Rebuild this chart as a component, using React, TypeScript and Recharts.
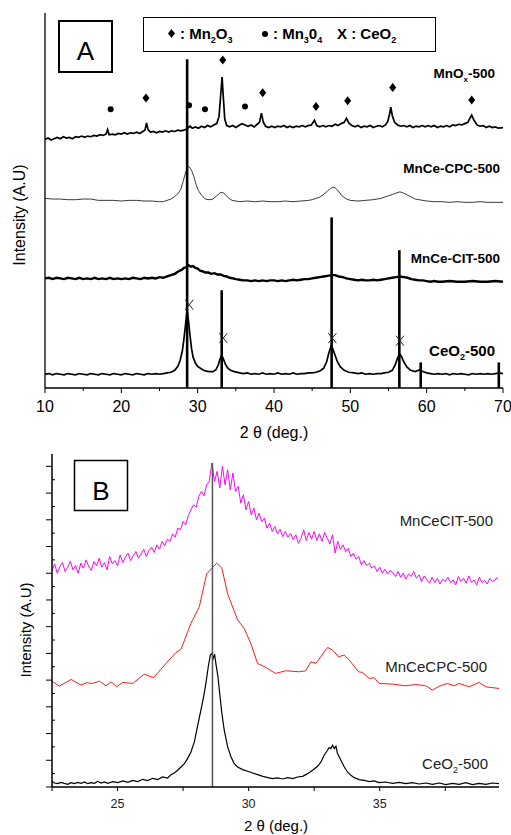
import { ComposedChart, Line, Scatter, XAxis, YAxis, ReferenceLine } from "recharts";

const FONT = '"Liberation Sans", Arial, sans-serif';

// ---- panel A (2θ 10–70, stacked patterns, arbitrary units) ----
const mnoxA = [
  [10, 3.79], [10.4, 3.81], [10.8, 3.78], [11.2, 3.8], [11.6, 3.82], [12, 3.8], [12.4, 3.83], [12.8, 3.81], [13.2, 3.82], [13.6, 3.8],
  [14, 3.83], [14.4, 3.82], [14.8, 3.84], [15.2, 3.82], [15.6, 3.84], [16, 3.83], [16.4, 3.85], [16.8, 3.84], [17.2, 3.86], [17.6, 3.85],
  [18, 3.87], [18.2, 3.94], [18.4, 3.86], [18.8, 3.87], [19.2, 3.86], [19.6, 3.88], [20, 3.87], [20.4, 3.89], [20.8, 3.87], [21.2, 3.89],
  [21.6, 3.88], [22, 3.9], [22.4, 3.88], [22.8, 3.91], [23.1, 3.93], [23.3, 4.04], [23.5, 3.94], [23.8, 3.9], [24.2, 3.91], [24.6, 3.89],
  [25, 3.91], [25.4, 3.9], [25.8, 3.92], [26.2, 3.9], [26.6, 3.92], [27, 3.91], [27.4, 3.93], [27.8, 3.92], [28.2, 3.93], [28.6, 3.95],
  [29, 3.99], [29.3, 3.96], [29.7, 3.98], [30.1, 3.96], [30.5, 3.99], [30.9, 3.97], [31.3, 4.0], [31.7, 3.98], [32.1, 4.01], [32.5, 4.03],
  [32.8, 4.14], [33.0, 4.44], [33.2, 4.74], [33.35, 4.45], [33.55, 4.1], [33.8, 4.0], [34.2, 3.98], [34.6, 4.0], [35, 3.97], [35.4, 4.0],
  [35.8, 4.03], [36.2, 4.01], [36.6, 3.99], [37, 4.01], [37.4, 3.98], [37.8, 4.02], [38.1, 4.05], [38.35, 4.19], [38.6, 4.05], [38.9, 3.99],
  [39.3, 3.97], [39.7, 3.99], [40.1, 3.97], [40.5, 3.99], [40.9, 3.98], [41.3, 4.0], [41.7, 3.97], [42.1, 3.99], [42.5, 3.97], [42.9, 3.99],
  [43.3, 3.98], [43.7, 4.0], [44.1, 3.98], [44.5, 4.0], [44.9, 4.01], [45.3, 4.08], [45.6, 4.0], [46, 3.98], [46.4, 4.0], [46.8, 3.98],
  [47.2, 4.0], [47.6, 3.99], [48, 4.02], [48.4, 4.0], [48.8, 4.03], [49.2, 4.05], [49.5, 4.11], [49.8, 4.04], [50.2, 4.0], [50.6, 3.98],
  [51, 4.0], [51.4, 3.97], [51.8, 3.99], [52.2, 3.98], [52.6, 4.0], [53, 3.97], [53.4, 3.99], [53.8, 4.0], [54.2, 3.98], [54.6, 4.01],
  [54.9, 4.06], [55.15, 4.18], [55.3, 4.28], [55.5, 4.15], [55.8, 4.05], [56.2, 4.01], [56.6, 3.99], [57, 4.0], [57.4, 3.98], [57.8, 4.0],
  [58.2, 3.97], [58.6, 3.99], [59, 3.98], [59.4, 4.0], [59.8, 3.98], [60.2, 4.0], [60.6, 3.98], [61, 4.0], [61.4, 3.97], [61.8, 3.99],
  [62.2, 3.98], [62.6, 4.0], [63, 3.98], [63.4, 4.01], [63.8, 4.0], [64.2, 4.02], [64.6, 4.01], [65, 4.03], [65.4, 4.05], [65.7, 4.12],
  [65.9, 4.16], [66.2, 4.08], [66.6, 4.01], [67, 3.99], [67.4, 4.0], [67.8, 3.97], [68.2, 3.99], [68.6, 3.97], [69, 3.98], [69.4, 3.96], [70, 3.97],
];

const cpcA = [
  [10, 2.89], [11, 2.88], [12, 2.88], [13, 2.87], [14, 2.87], [15, 2.88], [16, 2.88], [17, 2.86], [18, 2.86], [19, 2.86],
  [20, 2.85], [21, 2.86], [22, 2.86], [23, 2.85], [24, 2.85], [25, 2.84], [25.5, 2.84], [26, 2.86], [26.5, 2.88], [27, 2.92],
  [27.4, 2.96], [27.8, 3.03], [28.1, 3.15], [28.4, 3.28], [28.7, 3.38], [28.9, 3.37], [29.2, 3.32], [29.5, 3.22], [29.8, 3.1], [30.1, 3.01],
  [30.5, 2.94], [31, 2.88], [31.5, 2.87], [32, 2.88], [32.5, 2.93], [33, 2.98], [33.3, 2.98], [33.6, 2.95], [34, 2.9], [34.5, 2.86],
  [35.5, 2.84], [36.5, 2.85], [37.5, 2.84], [38.5, 2.85], [39.5, 2.84], [40.5, 2.84], [41.5, 2.85], [42.5, 2.84], [43.5, 2.85], [44.5, 2.86],
  [45, 2.87], [45.5, 2.89], [46, 2.91], [46.5, 2.95], [47, 3.0], [47.4, 3.04], [47.7, 3.06], [48, 3.05], [48.3, 3.02], [48.7, 2.96],
  [49, 2.92], [49.5, 2.88], [50, 2.86], [51, 2.85], [52, 2.86], [53, 2.87], [54, 2.89], [54.5, 2.91], [55, 2.93], [55.5, 2.95],
  [56, 2.97], [56.5, 2.99], [57, 2.97], [57.5, 2.94], [58, 2.91], [58.5, 2.88], [59, 2.87], [60, 2.85], [61, 2.84], [62, 2.84],
  [63, 2.83], [64, 2.84], [65, 2.83], [66, 2.83], [67, 2.84], [68, 2.83], [69, 2.83], [70, 2.83],
];

const citA = [
  [10, 1.67], [10.5, 1.68], [11, 1.66], [11.5, 1.68], [12, 1.67], [12.5, 1.66], [13, 1.68], [13.5, 1.67], [14, 1.66], [14.5, 1.68],
  [15, 1.66], [15.5, 1.67], [16, 1.66], [16.5, 1.68], [17, 1.66], [17.5, 1.67], [18, 1.66], [18.5, 1.68], [19, 1.66], [19.5, 1.67],
  [20, 1.66], [20.5, 1.67], [21, 1.66], [21.5, 1.68], [22, 1.67], [22.5, 1.66], [23, 1.68], [23.5, 1.67], [24, 1.68], [24.5, 1.67],
  [25, 1.69], [25.5, 1.68], [26, 1.7], [26.5, 1.72], [27, 1.74], [27.5, 1.78], [27.9, 1.8], [28.2, 1.83], [28.5, 1.84], [28.8, 1.87],
  [29.1, 1.85], [29.4, 1.86], [29.7, 1.83], [30, 1.82], [30.3, 1.79], [30.6, 1.78], [31, 1.76], [31.4, 1.76], [31.8, 1.74], [32.2, 1.75],
  [32.6, 1.73], [33, 1.73], [33.4, 1.71], [33.8, 1.7], [34.2, 1.68], [34.6, 1.67], [35, 1.66], [35.5, 1.65], [36, 1.64], [36.5, 1.64],
  [37, 1.63], [37.5, 1.64], [38, 1.63], [38.5, 1.64], [39, 1.63], [39.5, 1.64], [40, 1.64], [40.5, 1.63], [41, 1.64], [41.5, 1.63],
  [42, 1.64], [42.5, 1.65], [43, 1.64], [43.5, 1.65], [44, 1.66], [44.5, 1.66], [45, 1.67], [45.5, 1.68], [46, 1.69], [46.5, 1.7],
  [47, 1.71], [47.5, 1.72], [48, 1.72], [48.5, 1.7], [49, 1.69], [49.5, 1.67], [50, 1.66], [50.5, 1.65], [51, 1.64], [51.5, 1.65],
  [52, 1.64], [52.5, 1.64], [53, 1.65], [53.5, 1.64], [54, 1.65], [54.5, 1.66], [55, 1.67], [55.5, 1.68], [56, 1.69], [56.5, 1.7],
  [57, 1.69], [57.5, 1.68], [58, 1.66], [58.5, 1.65], [59, 1.64], [59.5, 1.64], [60, 1.63], [60.5, 1.62], [61, 1.63], [61.5, 1.62],
  [62, 1.62], [63, 1.63], [64, 1.62], [65, 1.62], [66, 1.63], [67, 1.62], [68, 1.62], [69, 1.63], [70, 1.62],
];

const ceo2A = [
  [10, 0.21], [10.5, 0.22], [11, 0.2], [11.5, 0.22], [12, 0.21], [12.5, 0.2], [13, 0.22], [13.5, 0.21], [14, 0.2], [14.5, 0.22],
  [15, 0.21], [15.5, 0.2], [16, 0.22], [16.5, 0.21], [17, 0.2], [17.5, 0.22], [18, 0.21], [18.5, 0.2], [19, 0.22], [19.5, 0.21],
  [20, 0.2], [20.5, 0.22], [21, 0.21], [21.5, 0.2], [22, 0.22], [22.5, 0.21], [23, 0.2], [23.5, 0.22], [24, 0.21], [24.5, 0.22],
  [25, 0.21], [25.5, 0.22], [26, 0.23], [26.5, 0.24], [27, 0.27], [27.4, 0.33], [27.7, 0.42], [28, 0.57], [28.2, 0.75], [28.4, 0.95],
  [28.55, 1.12], [28.65, 1.16], [28.8, 1.02], [29, 0.8], [29.2, 0.6], [29.4, 0.47], [29.7, 0.38], [30, 0.33], [30.5, 0.29], [31, 0.26],
  [31.5, 0.25], [32, 0.25], [32.4, 0.28], [32.7, 0.35], [32.95, 0.45], [33.15, 0.5], [33.35, 0.45], [33.6, 0.37], [33.9, 0.31], [34.3, 0.27],
  [34.8, 0.25], [35.5, 0.23], [36, 0.22], [36.5, 0.23], [37, 0.21], [37.5, 0.22], [38, 0.21], [38.5, 0.23], [39, 0.21], [39.5, 0.22],
  [40, 0.21], [40.5, 0.23], [41, 0.21], [41.5, 0.22], [42, 0.21], [42.5, 0.23], [43, 0.21], [43.5, 0.22], [44, 0.22], [44.5, 0.23],
  [45, 0.23], [45.5, 0.24], [46, 0.26], [46.5, 0.3], [46.9, 0.4], [47.2, 0.54], [47.45, 0.63], [47.7, 0.6], [48, 0.5], [48.3, 0.4],
  [48.7, 0.32], [49.2, 0.27], [49.8, 0.24], [50.5, 0.23], [51, 0.22], [51.5, 0.23], [52, 0.21], [52.5, 0.22], [53, 0.21], [53.5, 0.22],
  [54, 0.22], [54.5, 0.23], [55, 0.24], [55.5, 0.27], [55.9, 0.36], [56.2, 0.46], [56.45, 0.52], [56.7, 0.48], [57, 0.4], [57.4, 0.32],
  [57.9, 0.27], [58.5, 0.25], [59.1, 0.28], [59.5, 0.25], [60, 0.23], [60.5, 0.22], [61, 0.21], [61.5, 0.22], [62, 0.21], [62.5, 0.22],
  [63, 0.2], [63.5, 0.22], [64, 0.21], [64.5, 0.22], [65, 0.21], [65.5, 0.2], [66, 0.22], [66.5, 0.21], [67, 0.22], [67.5, 0.21],
  [68, 0.22], [68.5, 0.21], [69, 0.22], [69.5, 0.23], [70, 0.22],
];

// reference pattern sticks (position, height)
const sticksA = [[28.62, 5.01], [33.15, 1.49], [47.55, 2.6], [56.42, 2.1], [59.22, 0.39], [69.45, 0.39]];
// phase markers
const mn2o3Marks = [[23.23, 4.42], [33.28, 5.0], [38.52, 4.5], [45.5, 4.29], [49.65, 4.38], [55.55, 4.58], [65.9, 4.39]];
const mn3o4Marks = [[18.6, 4.25], [28.87, 4.31], [30.96, 4.25], [36.2, 4.29]];
const ceo2Marks = [[28.9, 1.27], [33.36, 0.76], [47.64, 0.76], [56.5, 0.72]];

const ticksA_x = [10, 15, 20, 25, 30, 35, 40, 45, 50, 55, 60, 65, 70];
const ticksA_top = [15, 20, 25, 30, 35, 40, 45, 50, 55, 60, 65];
const ticksA_y = [0, 1, 2, 3, 4, 5];
const ticksA_right = [0, 0.5, 1, 1.5, 2, 2.5, 3, 3.5, 4, 4.5, 5, 5.5];

// ---- panel B (2θ 22.5–39.5, counts) ----
const citB_start = 22.5;
const citB_step = 0.1;
const citB = [
  648, 668, 640, 660, 672, 645, 658, 676, 650, 663, 640, 670, 655, 680, 660, 648, 675, 662, 685, 658, 672, 650, 690, 668, 678, 662,
  695, 672, 688, 700, 678, 692, 705, 685, 698, 712, 690, 708, 718, 702, 725, 712, 735, 722, 742, 735,
  758, 748, 775, 770, 795, 785, 812, 830, 845, 838, 870, 885, 872, 905, 915,
  970, 915, 945, 895, 960, 905, 950, 890, 940, 885,
  900, 850, 875, 830, 855, 815, 835, 800, 820, 795,
  805, 775, 790, 765, 780, 758, 772, 750, 765, 748,
  760, 740, 755, 730, 745, 770, 738, 762, 742, 765,
  738, 758, 735, 762, 745, 728, 755, 700, 735, 712,
  725, 705, 715, 690, 700, 682, 690, 665, 678, 662,
  670, 655, 662, 645, 658, 640, 652, 638, 648, 642,
  630, 645, 628, 640, 622, 638, 630, 645, 625, 635,
  615, 632, 620, 610, 628, 612, 625, 608, 622, 615,
  628, 612, 620, 605, 630, 615, 625, 610, 632, 612,
  620, 605, 628, 612, 618, 608, 625, 615, 620, 628,
];

const cpcB = [
  [22.49, 317], [22.78, 302], [23.23, 322], [23.61, 305], [23.8, 312], [24.05, 310], [24.31, 317], [24.56, 303], [24.75, 315], [24.97, 300],
  [25.2, 313], [25.58, 310], [26.02, 338], [26.37, 327], [26.85, 370], [27.23, 403], [27.42, 412], [27.8, 490], [28.12, 540], [28.4, 638],
  [28.78, 670], [28.98, 655], [29.2, 578], [29.58, 500], [29.83, 475], [30.09, 428], [30.34, 370], [30.66, 358], [31.02, 340], [31.42, 348],
  [31.93, 345], [32.18, 348], [32.38, 375], [32.57, 370], [33.01, 418], [33.2, 410], [33.43, 390], [33.65, 395], [33.84, 380], [34.19, 345],
  [34.34, 343], [34.6, 325], [34.79, 327], [34.98, 310], [35.49, 308], [36.0, 303], [36.38, 307], [36.76, 303], [37.01, 290], [37.27, 302],
  [37.58, 310], [37.84, 303], [38.03, 310], [38.41, 300], [38.79, 313], [39.05, 300], [39.55, 295],
];

const ceo2B = [
  [22.49, 18], [22.59, 12], [22.72, 10], [22.85, 14], [22.97, 11], [23.1, 8], [23.23, 13], [23.35, 10], [23.48, 14], [23.61, 11],
  [23.74, 15], [23.86, 10], [23.99, 13], [24.12, 11], [24.24, 17], [24.37, 12], [24.5, 15], [24.62, 11], [24.82, 16], [25.01, 13],
  [25.2, 18], [25.39, 14], [25.58, 20], [25.77, 16], [25.96, 23], [26.15, 19], [26.34, 26], [26.53, 22], [26.72, 30], [26.91, 27],
  [27.04, 37], [27.17, 42], [27.29, 50], [27.42, 60], [27.55, 70], [27.67, 85], [27.8, 105], [27.93, 135], [28.06, 185], [28.18, 230],
  [28.27, 265], [28.37, 310], [28.46, 360], [28.54, 395], [28.6, 400], [28.65, 385], [28.7, 398], [28.75, 370], [28.83, 330], [28.91, 270],
  [28.98, 220], [29.07, 170], [29.2, 120], [29.33, 90], [29.45, 70], [29.58, 60], [29.77, 52], [29.96, 47], [30.15, 42], [30.34, 37],
  [30.54, 32], [30.73, 28], [30.91, 25], [31.1, 27], [31.3, 24], [31.49, 28], [31.68, 25], [31.87, 30], [32.06, 32], [32.25, 40],
  [32.44, 50], [32.63, 62], [32.76, 75], [32.88, 95], [33.01, 110], [33.07, 118], [33.14, 115], [33.2, 125], [33.27, 115], [33.33, 122],
  [33.39, 100], [33.52, 80], [33.65, 60], [33.77, 45], [33.9, 35], [34.03, 28], [34.22, 22], [34.41, 20], [34.6, 16], [34.79, 18],
  [34.98, 13], [35.23, 15], [35.49, 11], [35.74, 14], [36.0, 10], [36.25, 13], [36.5, 9], [36.76, 12], [37.01, 8], [37.27, 12],
  [37.52, 7], [37.78, 11], [38.03, 8], [38.28, 13], [38.54, 7], [38.79, 11], [39.05, 8], [39.3, 12], [39.55, 10],
];

const refLineB = 28.62;
const ticksB_x = [22.5, 25, 27.5, 30, 32.5, 35, 37.5];
const ticksB_y = [0, 40, 80, 120, 160, 200, 240, 280, 320, 360, 400, 440, 480, 520, 560, 600, 640, 680, 720, 760, 800, 840, 880, 920, 960];

const toPts = (arr: number[][]) => arr.map(([x, y]) => ({ x, y }));
const citBPts = citB.map((y, i) => ({ x: +(citB_start + i * citB_step).toFixed(2), y }));

function BottomTickA({ x, y, payload }: any) {
  const major = payload.value % 10 === 0;
  return (
    <g>
      <line x1={x} x2={x} y1={y} y2={y + (major ? 5 : 3)} stroke="#000" strokeWidth={1} />
      {major && (
        <text x={x} y={y + 24} textAnchor="middle" fontSize={16} fontFamily={FONT} fill="#000">
          {payload.value}
        </text>
      )}
    </g>
  );
}

function BottomTickB({ x, y, payload }: any) {
  const lab = payload.value % 5 === 0;
  return (
    <g>
      <line x1={x} x2={x} y1={y} y2={y + 4} stroke="#000" strokeWidth={1} />
      {lab && (
        <text x={x} y={y + 21} textAnchor="middle" fontSize={12.5} fontFamily={FONT} fill="#222">
          {payload.value}
        </text>
      )}
    </g>
  );
}

function LeftTickB({ x, y, payload }: any) {
  const major = payload.value % 80 === 0;
  return <line x1={major ? x - 6 : x} x2={major ? x : x + 3} y1={y} y2={y} stroke="#000" strokeWidth={1} />;
}

const DiamondMark = (p: any) => (
  <polygon points={`${p.cx},${p.cy - 4.5} ${p.cx + 3.5},${p.cy} ${p.cx},${p.cy + 4.5} ${p.cx - 3.5},${p.cy}`} fill="#000" />
);
const DotMark = (p: any) => <circle cx={p.cx} cy={p.cy} r={3} fill="#000" />;
const CrossMark = (p: any) => (
  <g stroke="#222" strokeWidth={1}>
    <line x1={p.cx - 4} y1={p.cy - 5} x2={p.cx + 4} y2={p.cy + 5} />
    <line x1={p.cx + 4} y1={p.cy - 5} x2={p.cx - 4} y2={p.cy + 5} />
  </g>
);

function PanelA() {
  return (
    <ComposedChart width={511} height={420} margin={{ top: 13, right: 8, bottom: 0, left: 0 }}>
      <XAxis dataKey="x" type="number" domain={[10, 70]} allowDataOverflow ticks={ticksA_x} interval={0}
        height={32} tickSize={0} tickMargin={0} tickLine={false} tick={<BottomTickA />} axisLine={{ stroke: "#000", strokeWidth: 1.3 }} />
      <XAxis xAxisId="top" orientation="top" type="number" domain={[10, 70]} allowDataOverflow ticks={ticksA_top} interval={0}
        height={0} mirror tickSize={3} tick={false} tickLine={{ stroke: "#000" }} axisLine={{ stroke: "#000", strokeWidth: 1.3 }} />
      <YAxis dataKey="y" type="number" domain={[0, 5.716]} allowDataOverflow ticks={ticksA_y} interval={0}
        width={45} tickSize={5} tick={false} tickLine={{ stroke: "#000" }} axisLine={{ stroke: "#000", strokeWidth: 1.3 }} />
      <YAxis yAxisId="right" orientation="right" type="number" domain={[0, 5.716]} allowDataOverflow ticks={ticksA_right} interval={0}
        width={0} tickSize={3} tick={false} tickLine={{ stroke: "#000" }} axisLine={{ stroke: "#000", strokeWidth: 1.3 }} />
      <Line data={toPts(mnoxA)} dataKey="y" type="linear" stroke="#000" strokeWidth={1.7} dot={false} isAnimationActive={false} />
      <Line data={toPts(cpcA)} dataKey="y" type="linear" stroke="#222" strokeWidth={0.9} dot={false} isAnimationActive={false} />
      <Line data={toPts(citA)} dataKey="y" type="linear" stroke="#000" strokeWidth={2.4} dot={false} isAnimationActive={false} />
      <Line data={toPts(ceo2A)} dataKey="y" type="linear" stroke="#000" strokeWidth={1.7} dot={false} isAnimationActive={false} />
      {sticksA.map(([x, h]) => (
        <ReferenceLine key={x} segment={[{ x, y: 0 }, { x, y: h }]} stroke="#000" strokeWidth={2.6} />
      ))}
      <Scatter data={toPts(mn2o3Marks)} shape={DiamondMark} isAnimationActive={false} />
      <Scatter data={toPts(mn3o4Marks)} shape={DotMark} isAnimationActive={false} />
      <Scatter data={toPts(ceo2Marks)} shape={CrossMark} isAnimationActive={false} />
    </ComposedChart>
  );
}

function PanelB() {
  return (
    <ComposedChart width={511} height={395} margin={{ top: 14, right: 12, bottom: 0, left: 0 }}>
      <XAxis dataKey="x" type="number" domain={[22.5, 39.55]} allowDataOverflow ticks={ticksB_x} interval={0}
        height={48} tickSize={0} tickMargin={0} tickLine={false} tick={<BottomTickB />} axisLine={{ stroke: "#000", strokeWidth: 1.5 }} />
      <XAxis xAxisId="top" orientation="top" type="number" domain={[22.5, 39.55]} allowDataOverflow ticks={[]}
        height={0} tick={false} tickLine={false} axisLine={{ stroke: "#000", strokeWidth: 1.5 }} />
      <YAxis dataKey="y" type="number" domain={[0, 997]} allowDataOverflow ticks={ticksB_y} interval={0}
        width={52} tickSize={0} tickMargin={0} tickLine={false} tick={<LeftTickB />} axisLine={{ stroke: "#000", strokeWidth: 1.5 }} />
      <YAxis yAxisId="right" orientation="right" type="number" domain={[0, 997]} allowDataOverflow ticks={[]}
        width={0} tick={false} tickLine={false} axisLine={{ stroke: "#000", strokeWidth: 1.5 }} />
      <Line data={citBPts} dataKey="y" type="linear" stroke="#ff00ff" strokeWidth={1} dot={false} isAnimationActive={false} />
      <Line data={toPts(cpcB)} dataKey="y" type="linear" stroke="#ff1a1a" strokeWidth={1} dot={false} isAnimationActive={false} />
      <Line data={toPts(ceo2B)} dataKey="y" type="linear" stroke="#000" strokeWidth={1.2} dot={false} isAnimationActive={false} />
      <ReferenceLine segment={[{ x: refLineB, y: 0 }, { x: refLineB, y: 970 }]} stroke="#555" strokeWidth={1.5} />
    </ComposedChart>
  );
}

function Overlay() {
  const bold = { fontFamily: FONT, fontWeight: 700, fill: "#000" } as const;
  const reg = { fontFamily: FONT, fill: "#000" } as const;
  return (
    <svg width={511} height={835} style={{ position: "absolute", left: 0, top: 0, pointerEvents: "none" }}>
      {/* panel A */}
      <rect x={59} y={21} width={53} height={51} fill="#fff" stroke="#000" strokeWidth={2} />
      <text x={85.5} y={60} textAnchor="middle" fontSize={26} {...reg}>A</text>
      <rect x={143.5} y={17.5} width={292} height={34} fill="#fff" stroke="#000" strokeWidth={1} />
      <polygon points="171.5,29 175,33.5 171.5,38 168,33.5" fill="#000" />
      <text x={180} y={39} fontSize={15} {...bold}>
        : Mn<tspan dy={4} fontSize={9}>2</tspan><tspan dy={-4}>O</tspan><tspan dy={4} fontSize={9}>3</tspan>
      </text>
      <circle cx={265} cy={34} r={3} fill="#000" />
      <text x={273} y={39} fontSize={15} {...bold}>
        : Mn<tspan dy={4} fontSize={9}>3</tspan><tspan dy={-4}>0</tspan><tspan dy={4} fontSize={9}>4</tspan>
      </text>
      <text x={337} y={39} fontSize={15} {...bold}>
        X : CeO<tspan dy={4} fontSize={9}>2</tspan>
      </text>
      <text x={495} y={78} textAnchor="end" fontSize={13.5} {...bold}>
        MnO<tspan dy={4} fontSize={8}>x</tspan><tspan dy={-4}>-500</tspan>
      </text>
      <text x={500} y={173} textAnchor="end" fontSize={13.5} {...bold}>MnCe-CPC-500</text>
      <text x={500} y={263} textAnchor="end" fontSize={13.5} {...bold}>MnCe-CIT-500</text>
      <text x={495} y={356} textAnchor="end" fontSize={15} {...bold}>
        CeO<tspan dy={4} fontSize={9}>2</tspan><tspan dy={-4}>-500</tspan>
      </text>
      <text x={25} y={215} textAnchor="middle" fontSize={16} transform="rotate(-90 25 215)" {...reg}>Intensity (A.U)</text>
      <text x={274} y={438} textAnchor="middle" fontSize={16} {...reg}>2 θ (deg.)</text>

      {/* panel B */}
      <rect x={74.5} y={460.5} width={53} height={50} fill="#fff" stroke="#000" strokeWidth={1.5} />
      <text x={101} y={500} textAnchor="middle" fontSize={26} {...reg}>B</text>
      <text x={493} y={526} textAnchor="end" fontSize={15} {...reg} fill="#222">MnCeCIT-500</text>
      <text x={487} y={672} textAnchor="end" fontSize={15} {...reg} fill="#222">MnCeCPC-500</text>
      <text x={488} y={769} textAnchor="end" fontSize={15} {...reg} fill="#222">
        CeO<tspan dy={4} fontSize={9}>2</tspan><tspan dy={-4}>-500</tspan>
      </text>
      <text x={31} y={630} textAnchor="middle" fontSize={15} transform="rotate(-90 31 630)" {...reg}>Intensity (A.U)</text>
      <text x={276} y={831} textAnchor="middle" fontSize={15} {...reg}>2 θ (deg.)</text>
    </svg>
  );
}

export default function App() {
  return (
    <div style={{ position: "absolute", left: 0, top: 0, width: 511, height: 835, background: "#fff", overflow: "hidden" }}>
      <div style={{ position: "absolute", left: 0, top: 0 }}>
        <PanelA />
      </div>
      <div style={{ position: "absolute", left: 0, top: 440 }}>
        <PanelB />
      </div>
      <Overlay />
    </div>
  );
}
